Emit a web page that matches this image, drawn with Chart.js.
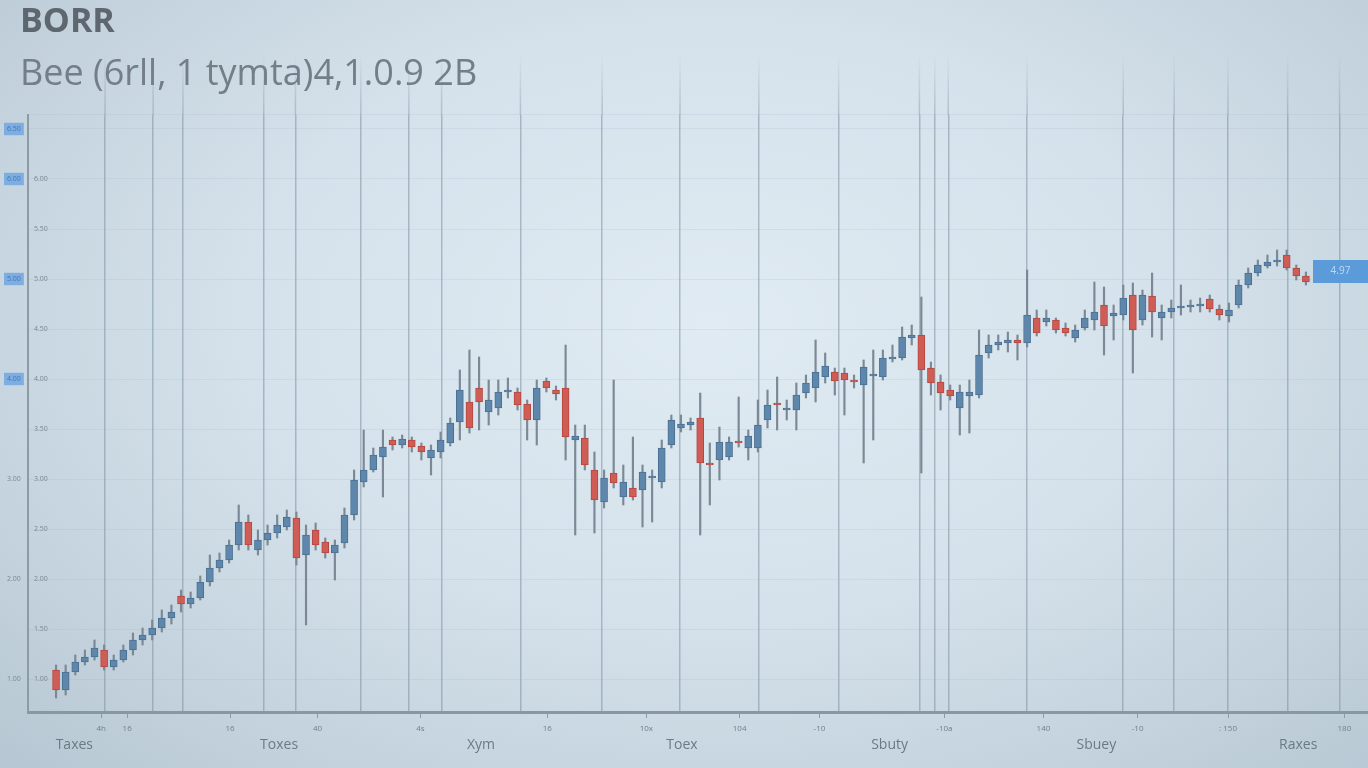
<!DOCTYPE html>
<html>
<head>
<meta charset="utf-8">
<script src="https://cdn.jsdelivr.net/npm/chart.js@4.4.1/dist/chart.umd.min.js"></script>
<style>
html, body { margin: 0; padding: 0; width: 1368px; height: 768px; overflow: hidden; }
body { background: radial-gradient(ellipse 75% 85% at 52% 42%, #e0ebf3 0%, #d5e2eb 45%, #c2d1dc 78%, #b4c5d1 100%); }
#wrap { position: relative; width: 1368px; height: 768px; }
canvas { filter: blur(0.6px); }
</style>
</head>
<body>
<div id="wrap"><canvas id="c"></canvas></div>
<script>
// 캔들 데이터 (값 = 센트, 1px = 1)
var openV = [109,89,107,117,122,129,112,119,129,139, 144,151,161,183,175,181,197,211,219,234,
  257,229,239,246,252,261,224,249,237,226, 236,264,297,309,322,339,334,339,333,321,
  327,336,357,377,391,367,371,387,387,375, 359,398,389,391,339,341,309,277,306,282,
  291,289,301,297,334,351,354,361,316,319, 322,338,331,331,359,376,369,369,386,391,
  402,407,406,399,394,403,402,420,421,441, 444,411,397,389,371,383,384,426,434,436,
  439,436,461,457,459,451,441,451,459,474, 463,464,484,459,483,461,467,471,472,473,
  480,470,463,474,494,506,513,517,524,511, 503];
var closeV = [89,107,117,122,131,112,119,129,139,144, 151,161,167,175,181,197,211,219,234,257,
  234,239,246,254,262,221,244,234,226,234, 264,299,309,324,332,334,340,332,327,329,
  339,356,389,351,377,379,387,389,374,359, 391,391,385,342,343,314,279,301,296,297,
  282,307,303,331,359,355,357,316,314,337, 337,336,343,354,374,374,371,384,396,407,
  413,398,399,397,412,405,421,422,442,444, 409,396,386,383,387,387,424,434,437,439,
  436,464,446,461,449,446,449,461,467,453, 466,481,449,484,467,467,471,472,473,474,
  470,464,469,494,506,514,517,518,511,503, 497];
var highV = [114,114,124,129,139,134,124,134,146,151, 159,169,174,189,187,203,224,226,239,274,
  264,249,254,264,269,267,254,256,241,239, 271,309,349,331,349,342,344,342,336,334,
  347,361,409,429,422,399,399,401,391,379, 399,401,393,434,354,354,327,309,399,314,
  342,314,309,339,364,364,361,386,336,352, 342,382,349,379,389,402,379,396,404,439,
  426,411,411,404,419,429,429,434,452,454, 482,417,404,394,394,399,449,444,444,447,
  444,509,469,469,461,456,454,469,497,492, 474,494,496,489,506,474,479,494,479,481,
  484,474,476,499,511,519,524,529,529,514, 507];
var lowV = [81,84,104,114,119,109,109,117,124,134, 139,147,155,167,171,179,193,207,216,229,
  229,224,234,241,249,214,154,229,221,199, 231,259,292,307,282,329,331,327,319,304,
  321,333,339,346,349,354,364,381,369,339, 334,387,379,319,244,309,246,271,291,274,
  279,252,257,291,331,347,349,244,274,299, 319,332,319,327,351,349,359,349,381,377,
  396,384,364,391,316,339,399,417,419,434, 306,384,369,379,344,346,381,421,429,427,
  419,432,443,453,446,443,437,449,449,424, 439,459,406,454,442,439,461,464,467,467,
  467,459,457,471,491,503,511,513,509,499, 494];

var titleText = 'BORR';
var subText = 'Bee (6rll, 1 tymta)4,1.0.9 2B';

// 세로 그리드 / 하단 라벨 위치 (캔들 인덱스 단위)
var gridAt = [5.1, 10.1, 13.2, 21.6, 24.9, 31.7, 36.7, 40.1, 48.3, 56.8, 64.9, 73.1, 81.4, 89.8, 91.4, 92.8, 101.0, 111.0, 116.3, 121.9, 128.1, 133.5];
var xNumAt = [4.7, 7.4, 18.1, 27.2, 37.9, 51.1, 61.4, 71.1, 79.4, 92.4, 102.7, 112.5, 121.9, 134.0];
var xNumText = ['4h', '16', '16', '40', '4s', '16', '10x', '104', '-10', '-10a', '140', '-10', ': 150', '180'];
var xWordAt = [1.9, 23.2, 44.2, 65.1, 86.7, 108.2, 129.2];
var xWordText = ['Taxes', 'Toxes', 'Xym', 'Toex', 'Sbuty', 'Sbuey', 'Raxes'];
var yOuterTicks = [650, 600, 500, 400, 300, 200, 100];
var yBlueFrom = 400;

var UP = '#5f87ac', UP_EDGE = '#4a6f92';
var DOWN = '#cf5d55', DOWN_EDGE = '#b4473f';
var FONT = '"Open Sans", "Noto Sans", sans-serif';

var idx = openV.map(function(v, i) { return i; });
var wickData = idx.map(function(i) { return { x: i, y: [lowV[i], highV[i]] }; });
var bodyData = idx.map(function(i) { return { x: i, y: [openV[i], closeV[i]] }; });

function isUp(i) { return closeV[i] >= openV[i]; }

function setTicks(arr) {
    return function(scale) { scale.ticks = arr.map(function(v) { return { value: v }; }); };
}

// 그리드 선을 차트 위쪽으로 흐리게 연장
var gridFade = {
    id: 'gridFade',
    beforeDatasetsDraw: function(chart) {
        var ctx = chart.ctx, sx = chart.scales.x, top = chart.chartArea.top;
        var g = ctx.createLinearGradient(0, 55, 0, top);
        g.addColorStop(0, 'rgba(125,145,160,0)');
        g.addColorStop(1, 'rgba(125,145,160,0.45)');
        ctx.save();
        ctx.strokeStyle = g;
        ctx.lineWidth = 1.5;
        sx.ticks.forEach(function(t) {
            var x = sx.getPixelForValue(t.value);
            ctx.beginPath();
            ctx.moveTo(x, 55);
            ctx.lineTo(x, top);
            ctx.stroke();
        });
        ctx.restore();
    }
};

var lastBox = {
    id: 'lastBox',
    afterDatasetsDraw: function(chart) {
        var ctx = chart.ctx;
        var last = closeV[closeV.length - 1];
        var y = chart.scales.y.getPixelForValue(last);
        var right = chart.chartArea.right, w = 55, h = 23;
        ctx.save();
        ctx.fillStyle = '#5b9bd9';
        ctx.fillRect(right - w, y - h + 1, w, h);
        ctx.fillStyle = 'rgba(222,236,250,0.75)';
        ctx.font = '10px ' + FONT;
        ctx.textAlign = 'center';
        ctx.textBaseline = 'middle';
        ctx.fillText((last / 100).toFixed(2), right - w / 2, y - h / 2 + 1);
        ctx.restore();
    }
};

var xMin = -2.917, xMax = 136.458;

new Chart(document.getElementById('c'), {
    type: 'bar',
    data: {
        datasets: [
            { label: 'wick', data: wickData, backgroundColor: '#7a8995', barThickness: 1.5, grouped: false, order: 2 },
            {
                label: 'body', data: bodyData, grouped: false, order: 1,
                barThickness: 7, minBarLength: 2, borderWidth: 1, borderSkipped: false,
                backgroundColor: function(c) { return isUp(c.dataIndex) ? UP : DOWN; },
                borderColor: function(c) { return isUp(c.dataIndex) ? UP_EDGE : DOWN_EDGE; }
            }
        ]
    },
    options: {
        responsive: true, maintainAspectRatio: false, animation: false, devicePixelRatio: 1,
        layout: { padding: { left: 20, right: 0, top: 0, bottom: 0 } },
        plugins: {
            legend: { display: false },
            tooltip: { enabled: false },
            title: { display: true, text: titleText, align: 'start', color: '#5e676f',
                font: { family: FONT, size: 34, weight: 'bold' }, padding: { top: 2, bottom: 0 } },
            subtitle: { display: true, text: subText, align: 'start', color: '#737e88',
                font: { family: FONT, size: 36 }, padding: { top: 10, bottom: 19 } }
        },
        scales: {
            x: {
                type: 'linear', min: xMin, max: xMax, offset: false, weight: 0,
                afterBuildTicks: setTicks(gridAt),
                afterFit: function(s) { s.height = 2; },
                grid: { offset: false, color: 'rgba(125,145,160,0.55)', lineWidth: 1.5, drawTicks: false },
                border: { display: true, color: '#8797a3', width: 3 },
                ticks: { display: false }
            },
            x2: {
                type: 'linear', axis: 'x', position: 'bottom', min: xMin, max: xMax, offset: false, weight: 1,
                afterBuildTicks: setTicks(xNumAt),
                afterFit: function(s) { s.height = 20; },
                grid: { offset: false, drawOnChartArea: false, drawTicks: true, tickLength: 4, color: '#8d9ba6' },
                border: { display: false },
                ticks: { autoSkip: false, maxRotation: 0, padding: 6, color: '#72808c', font: { family: FONT, size: 8 },
                    callback: function(v, i) { return xNumText[i]; } }
            },
            x3: {
                type: 'linear', axis: 'x', position: 'bottom', min: xMin, max: xMax, offset: false, weight: 2,
                afterBuildTicks: setTicks(xWordAt),
                afterFit: function(s) { s.height = 34; },
                grid: { display: false, drawTicks: false },
                border: { display: false },
                ticks: { autoSkip: false, maxRotation: 0, padding: 3, color: '#6b7a86', font: { family: FONT, size: 14 },
                    callback: function(v, i) { return xWordText[i]; } }
            },
            y: {
                type: 'linear', position: 'left', min: 67, max: 664, beginAtZero: false, weight: 0,
                afterFit: function(s) { s.width = 2; },
                grid: { color: 'rgba(150,170,185,0.16)', lineWidth: 1, drawTicks: false },
                border: { display: true, color: '#8d9ba6', width: 2 },
                ticks: { mirror: true, stepSize: 50, padding: 6, color: '#7a8894', font: { family: FONT, size: 7 },
                    callback: function(v) { return v >= 100 && v <= 600 ? (v / 100).toFixed(2) : ''; } }
            },
            y2: {
                type: 'linear', axis: 'y', position: 'left', min: 67, max: 664, beginAtZero: false, weight: 1,
                afterBuildTicks: setTicks(yOuterTicks),
                afterFit: function(s) { s.width = 6; },
                grid: { display: false, drawTicks: false },
                border: { display: false },
                ticks: { mirror: true, padding: -19, font: { family: FONT, size: 7 },
                    color: function(c) { return c.tick && c.tick.value >= yBlueFrom ? '#3c78c2' : '#7a8894'; },
                    showLabelBackdrop: true,
                    backdropPadding: { top: 2, bottom: 2, left: 3, right: 3 },
                    backdropColor: function(c) { return c.tick && c.tick.value >= yBlueFrom ? '#7eaee0' : 'rgba(0,0,0,0)'; },
                    callback: function(v) { return (v / 100).toFixed(2); } }
            }
        }
    },
    plugins: [gridFade, lastBox]
});
</script>
</body>
</html>
